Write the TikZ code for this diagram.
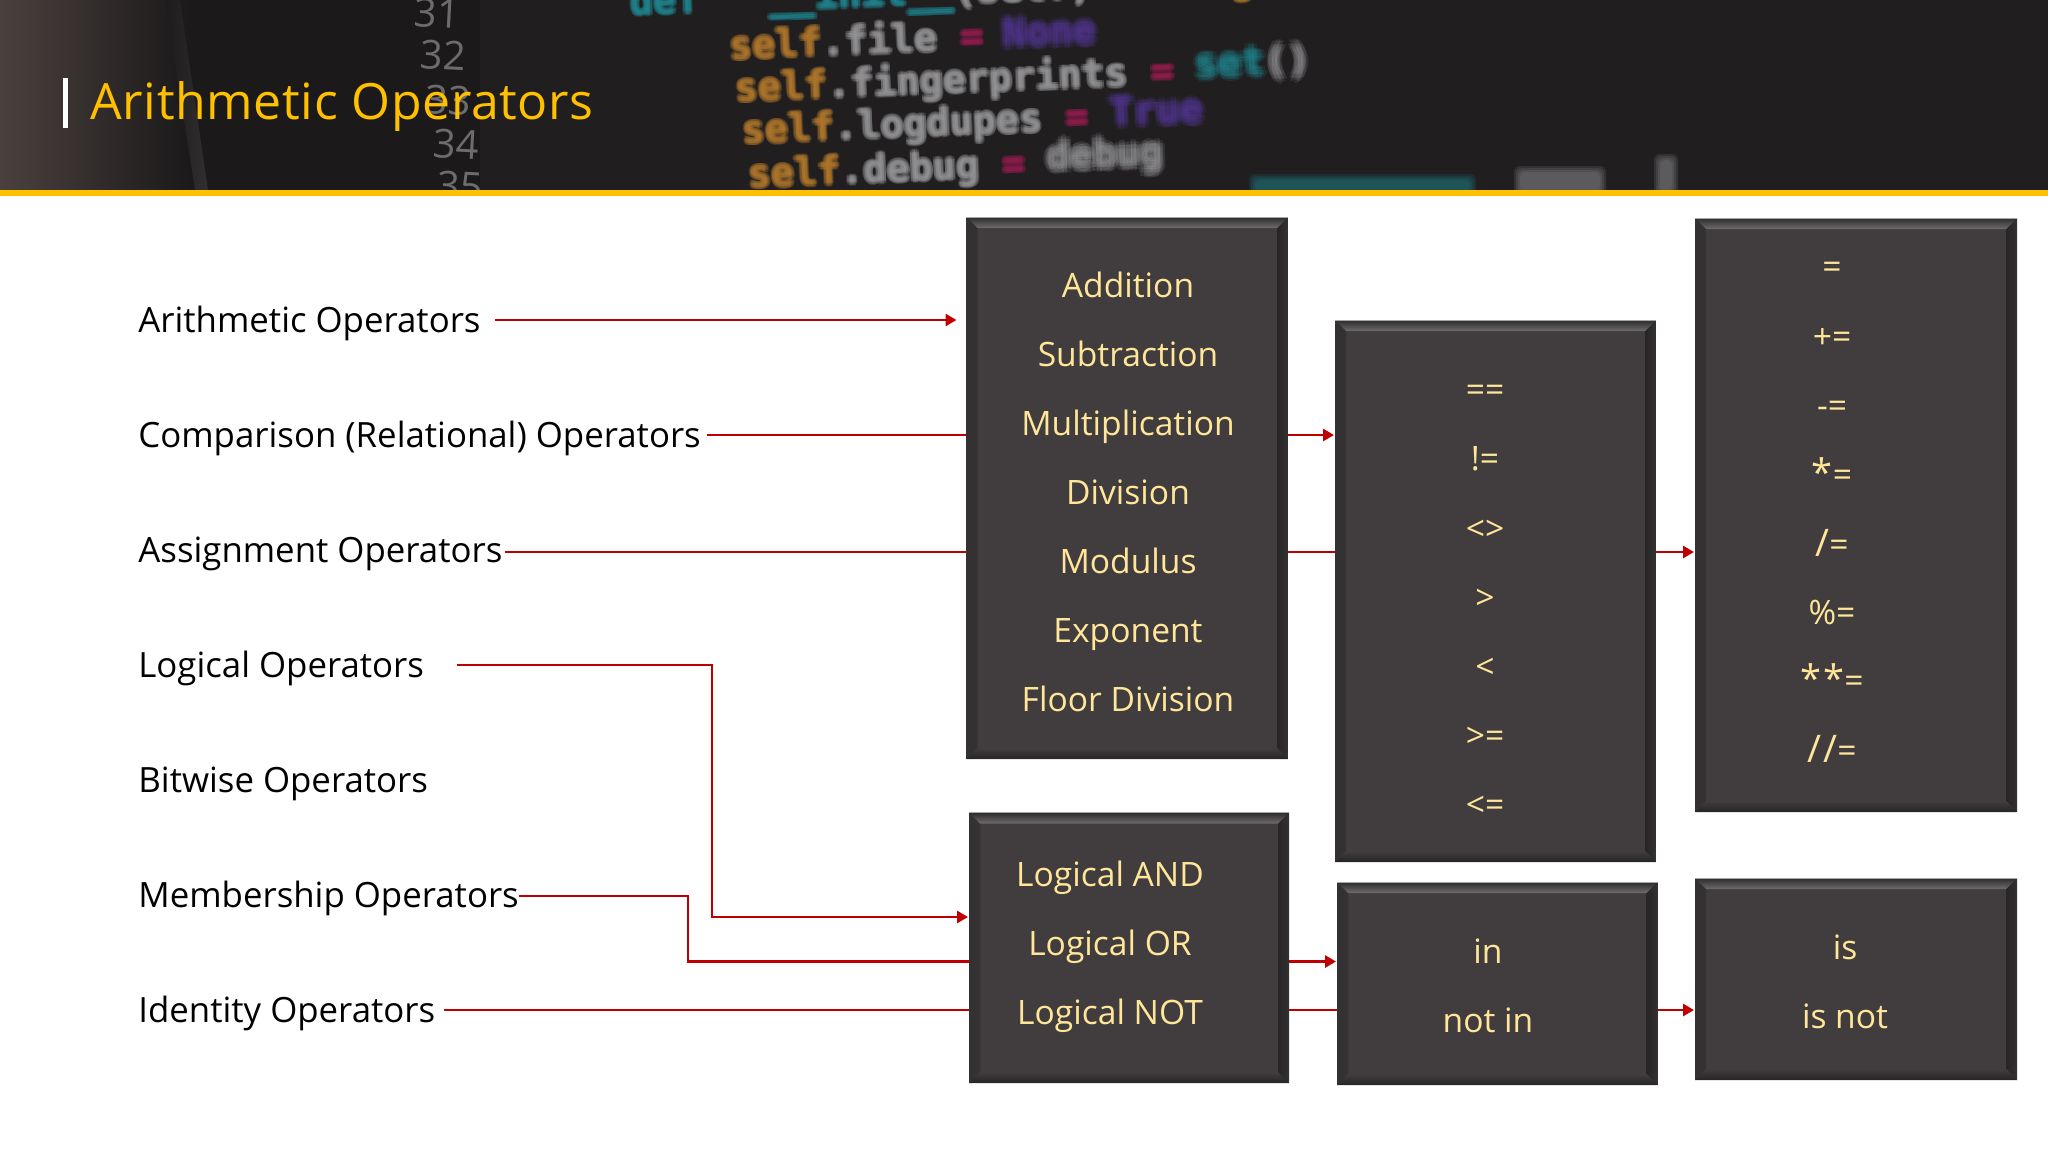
\documentclass[tikz,border=0pt]{standalone}
\usepackage{fontspec}
\setmainfont{Open Sans}
\newfontfamily\boxfontfam{Open Sans}
\newfontfamily\titlefontfam[LetterSpace=1.3]{Open Sans}
\newfontfamily\codefont{DejaVu Sans Mono}
\usetikzlibrary{arrows.meta,calc,backgrounds}
\definecolor{hdrdark}{HTML}{1B191A}
\definecolor{hdrwarm}{HTML}{4A413E}
\definecolor{amber}{HTML}{FFC000}
\definecolor{wire}{HTML}{C00000}
\definecolor{panel}{HTML}{413D3F}
\definecolor{panelhi}{HTML}{6E6C6D}
\definecolor{panellow}{HTML}{262425}
\definecolor{panelside}{HTML}{343133}
\definecolor{cream}{HTML}{FFE699}
\definecolor{cself}{HTML}{B87C2C}
\definecolor{cname}{HTML}{9A9A9C}
\definecolor{cop}{HTML}{9C1B52}
\definecolor{ckey}{HTML}{56389A}
\definecolor{cteal}{HTML}{1E8A94}
\definecolor{cnum}{HTML}{6C6C6C}
\newcount\codec
\newcommand{\codeline}[4]{%
  \foreach \dx/\dy in {0/0,2.4/0,-2.4/0,0/2.4,0/-2.4,1.7/1.7,-1.7/1.7,1.7/-1.7,-1.7/-1.7}{%
    \global\advance\codec by 1
    \path (#1+\dx,#2+\dy) node[anchor=west,inner sep=0,rotate=#3,opacity=.26,name=code\the\codec,
      font=\codefont\bfseries\fontsize{19.2}{19}\selectfont]{#4};}}
\newcommand{\codeblur}[4]{%
  \foreach \dx/\dy in {0/0,5/0,-5/0,0/5,0/-5,3.5/3.5,-3.5/3.5,3.5/-3.5,-3.5/-3.5,2.5/0,-2.5/0,0/2.5,0/-2.5}{%
    \global\advance\codec by 1
    \path (#1+\dx,#2+\dy) node[anchor=west,inner sep=0,rotate=#3,opacity=.16,name=code\the\codec,
      font=\codefont\bfseries\fontsize{19.2}{19}\selectfont]{#4};}}
\newcommand{\blobpatch}[5]{%
  \foreach \g in {0,2,4,6}{%
    \fill[#5,opacity=.16,rounded corners=3pt] (#1-\g,#2-\g) rectangle (#3+\g,#4+\g);}}
\newcommand{\panelbox}[5]{%
  \node[bevelbox,minimum width={(#4-#2)*0.5pt},minimum height={(#5-#3)*0.5pt}] (#1) at ({(#2+#4)/2},{(#3+#5)/2}) {};}
\newcommand{\bigglyph}[1]{{\fontsize{19}{19}\selectfont #1}}
\tikzset{
  bevelbox/.style={rectangle,fill=panel,inner sep=0pt,outer sep=0pt,
    path picture={
      \coordinate (ba) at (path picture bounding box.north west);
      \coordinate (bb) at (path picture bounding box.north east);
      \coordinate (bc) at (path picture bounding box.south east);
      \coordinate (bd) at (path picture bounding box.south west);
      \coordinate (ia) at ($(ba)+(5.5pt,-5.5pt)$);
      \coordinate (ib) at ($(bb)+(-5.5pt,-5.5pt)$);
      \coordinate (ic) at ($(bc)+(-5.5pt,5.5pt)$);
      \coordinate (id) at ($(bd)+(5.5pt,5.5pt)$);
      \shade[top color=panelside,bottom color=panelside] (ba)--(ia)--(id)--(bd)--cycle;
      \shade[left color=panellow,right color=panelside] (bb)--(ib)--(ic)--(bc)--cycle;
      \shade[top color=panel,bottom color=panellow] (bd)--(id)--(ic)--(bc)--cycle;
      \shade[top color=panel!70!black,bottom color=panelhi] (ba)--(bb)--(ib)--(ia)--cycle;
      \draw[gray!70,line width=.6pt] (ba)--(bb);
    }},
  sidelabel/.style={anchor=west,inner sep=0pt,text height=12.8pt,text depth=.2pt,text=black,
    font=\fontsize{17.4}{20}\selectfont},
  panelitem/.style={anchor=base,inner sep=0pt,text=cream,font=\boxfontfam\fontsize{16.8}{19}\selectfont},
  flow/.style={draw=wire,line width=1.4pt,-{Triangle[length=5.5pt,width=6pt]},shorten >=.5pt},
  linenum/.style={anchor=center,inner sep=0pt,text=cnum,rotate=-3,font=\fontsize{20}{20}\selectfont},
}
\begin{document}
\begin{tikzpicture}[x=0.5pt,y=-0.5pt]
\useasboundingbox (0,0) rectangle (2048,1152);
% ---- header image
\begin{scope}
\clip (0,0) rectangle (2048,190);
\fill[hdrdark] (0,0) rectangle (2048,190);
\shade[left color=hdrwarm,right color=hdrdark] (0,0) rectangle (190,190);
\shade[left color=hdrdark,right color=hdrdark!80!white,opacity=.5] (165,0) -- (180,0) -- (208,190) -- (195,190) -- cycle;
\fill[hdrdark!98!white] (480,0) rectangle (2048,190);
\path (437,13) node[linenum,name=nA]{31};
\path (443,55) node[linenum,name=nB]{32};
\path (448,100) node[linenum,name=nC]{33};
\path (456,144) node[linenum,name=nD]{34};
\path (460,186) node[linenum,name=nE]{35};
\codeline{630}{4}{2}{\textcolor{cteal}{def\ \ \ \_\_init\_\_}\textcolor{cname}{(self,}\textcolor{cself}{\ \ debug}}
\codeline{729}{44}{2.3}{\textcolor{cself}{self}\textcolor{cname}{.file}\textcolor{cop}{\ =}}
\codeblur{1003}{33}{2.3}{\textcolor{ckey}{None}}
\codeline{735}{90}{2.3}{\textcolor{cself}{self}\textcolor{cname}{.fingerprints}\textcolor{cop}{\ =}}
\codeblur{1195}{65}{2.3}{\textcolor{cteal}{set}\textcolor{cname}{()}}
\codeline{742}{133}{2.3}{\textcolor{cself}{self}\textcolor{cname}{.logdupes}\textcolor{cop}{\ =}}
\codeblur{1110}{112}{2.3}{\textcolor{ckey}{True}}
\codeline{748}{177}{2.3}{\textcolor{cself}{self}\textcolor{cname}{.debug}\textcolor{cop}{\ =}}
\codeblur{1047}{159}{2.3}{\textcolor{cname}{debug}}
\blobpatch{1255}{180}{1470}{192}{cteal}
\blobpatch{1520}{172}{1600}{192}{cname}
\blobpatch{1660}{160}{1672}{192}{cname}
\end{scope}
\fill[amber] (0,190) rectangle (2048,196);
\fill[white] (63,78) rectangle (68,128);
\path (90,107) node[anchor=west,inner sep=0pt,text=amber,name=title,font=\titlefontfam\fontsize{25}{28}\selectfont]{Arithmetic Operators};
% ---- side labels
\path (138,320) node[sidelabel,name=lblA]{Arithmetic Operators};
\path (138,435) node[sidelabel,name=lblB]{Comparison (Relational) Operators};
\path (138,550) node[sidelabel,name=lblC]{Assignment Operators};
\path (138,665) node[sidelabel,name=lblD]{Logical Operators};
\path (138,780) node[sidelabel,name=lblE]{Bitwise Operators};
\path (138,895) node[sidelabel,name=lblF]{Membership Operators};
\path (138,1010) node[sidelabel,name=lblG]{Identity Operators};
% ---- panels
\panelbox{pArith}{966.5}{217}{1288}{759}
\panelbox{pCompare}{1335}{320}{1656}{862}
\panelbox{pAssign}{1695}{218}{2017}{812}
\panelbox{pLogical}{969}{812.5}{1289}{1083}
\panelbox{pMember}{1337}{882}{1657.5}{1085}
\panelbox{pIdentity}{1695}{878}{2017}{1080}
% ---- panel texts
\foreach \nm/\yy/\tx in {a1/297/Addition,a2/366/Subtraction,a3/435/Multiplication,a4/504/Division,a5/573/Modulus,a6/642/Exponent,a7/711/Floor Division}
  \path (1128,\yy) node[panelitem,name=\nm]{\tx};
\foreach \nm/\yy/\tx in {c1/401/==,c2/470/!=,c3/540/<>,c4/609/>,c5/678/<,c6/747/>=,c7/816/<=}
  \path (1485,\yy) node[panelitem,name=\nm]{\tx};
\foreach \nm/\yy/\tx in {d1/278/=,d2/348/+=,d3/417/-=,d4/486/{\bigglyph{*}=},d5/556/{\bigglyph{/}=},d6/624/\%=,d7/692/{\bigglyph{*\kern1pt*}=},d8/762/{\bigglyph{/\kern1pt/}=}}
  \path (1832,\yy) node[panelitem,name=\nm]{\tx};
\foreach \nm/\yy/\tx in {l1/886/Logical AND,l2/955/Logical OR,l3/1024/Logical NOT}
  \path (1110,\yy) node[panelitem,name=\nm]{\tx};
\foreach \nm/\yy/\tx in {m1/963/in,m2/1032/not in}
  \path (1488,\yy) node[panelitem,name=\nm]{\tx};
\foreach \nm/\yy/\tx in {i1/959/is,i2/1028/is not}
  \path (1845,\yy) node[panelitem,name=\nm]{\tx};
% ---- connectors, behind the panels
\coordinate (dropD) at (712,917);
\coordinate (dropF) at (688,961.5);
\begin{pgfonlayer}{background}
\draw[flow,shorten >=5pt] ([xshift=7pt]lblA.east) -- (pArith.west |- lblA.east);
\draw[flow] ([xshift=3pt]lblB.east) -- (pCompare.west |- lblB.east);
\draw[flow] ([xshift=1pt,yshift=-1pt]lblC.east) -- ([yshift=-1pt]pAssign.west |- lblC.east);
\draw[flow] ([xshift=16.5pt]lblD.east) -| (dropD) -- (pLogical.west |- dropD);
\draw[flow] ([xshift=0pt,yshift=-.5pt]lblF.east) -| (dropF) -- (pMember.west |- dropF);
\draw[flow] ([xshift=4pt]lblG.east) -- (pIdentity.west |- lblG.east);
\end{pgfonlayer}
\end{tikzpicture}
\end{document}
